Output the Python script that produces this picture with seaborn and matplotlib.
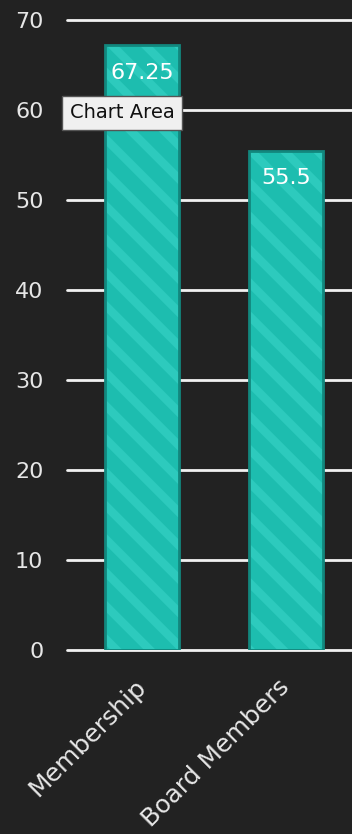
import matplotlib
matplotlib.use("Agg")
import matplotlib.pyplot as plt
import seaborn as sns
import pandas as pd

categories = ["Membership", "Board Members"]
values = [67.25, 55.5]
value_labels = ["67.25", "55.5"]
y_ticks = [0, 10, 20, 30, 40, 50, 60, 70]

BG = "#222222"
TEAL = "#1dbdaf"
STRIPE = "#2dcabd"
EDGE = "#12877d"

sns.set_theme(style="dark")
plt.rcParams["font.family"] = ["DejaVu Sans"]
plt.rcParams["hatch.linewidth"] = 6

fig = plt.figure(figsize=(3.52, 8.34), dpi=100, facecolor=BG)
ax = fig.add_axes([67 / 352, 184 / 834, 285 / 352, 630 / 834])
ax.set_facecolor(BG)

df = pd.DataFrame({"category": categories, "value": values})
sns.barplot(data=df, x="category", y="value", color=TEAL, width=0.52,
            saturation=1, ax=ax, zorder=3)
for patch in ax.patches:
    patch.set_facecolor(TEAL)
    patch.set_hatch("\\")
    patch.set_edgecolor(STRIPE)
    patch.set_linewidth(0)

# darker soft outline around each bar
sns.barplot(data=df, x="category", y="value", color=EDGE, width=0.52,
            saturation=1, fill=False, linewidth=2, ax=ax, zorder=4)

ax.set_xlim(-0.521, 1.458)
ax.set_ylim(0, 70)
ax.set_yticks(y_ticks)
ax.set_yticklabels([str(t) for t in y_ticks], color="#e6e6e6", fontsize=16)
for t in y_ticks:
    ax.axhline(t, color="#f2f2f2", lw=2, zorder=2, clip_on=False)
ax.tick_params(axis="y", length=0, pad=17)
ax.tick_params(axis="x", length=0, pad=24)
ax.set_xticks(range(len(categories)))
ax.set_xticklabels(categories, rotation=45, ha="right", va="center",
                   rotation_mode="anchor", color="#e6e6e6", fontsize=18)
ax.set_xlabel("")
ax.set_ylabel("")
ax.grid(False)
for s in ax.spines.values():
    s.set_visible(False)

for i, (v, lab) in enumerate(zip(values, value_labels)):
    ax.annotate(lab, (i, v), xytext=(0, -20), textcoords="offset points",
                ha="center", va="center", color="white", fontsize=16, zorder=6)

# hover tooltip box
fig.text(122 / 352, 1 - 113 / 834, "Chart Area", ha="center", va="center",
         fontsize=14, color="#111111", zorder=10,
         bbox=dict(boxstyle="square,pad=0.4", facecolor="#f0f0f0",
                   edgecolor="#555555", linewidth=1))

fig.savefig("out.png", dpi=100, facecolor=BG)
